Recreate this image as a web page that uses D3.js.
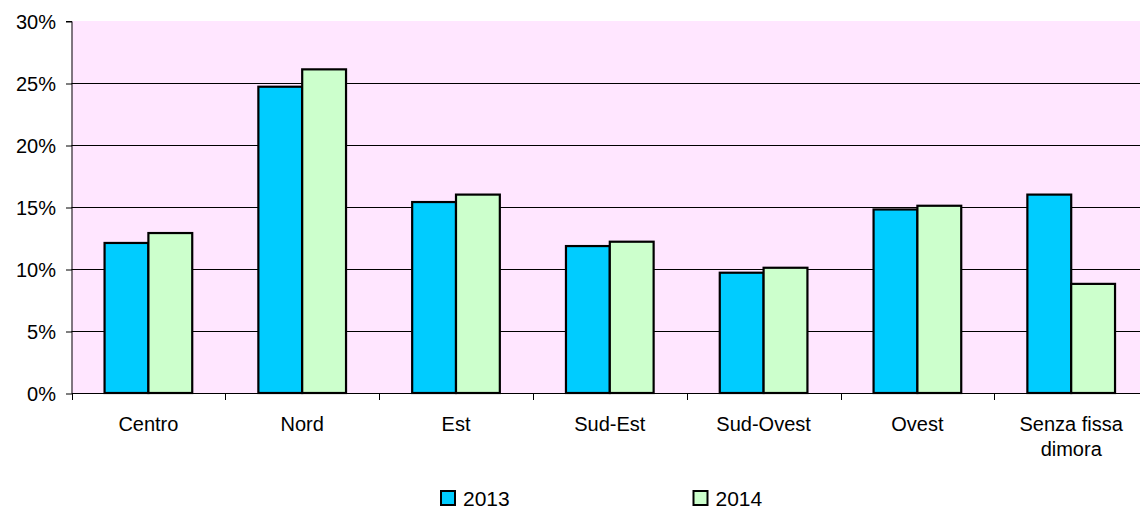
<!DOCTYPE html>
<html>
<head>
<meta charset="utf-8">
<script src="https://cdn.jsdelivr.net/npm/d3@7"></script>
<style>
  body { margin: 0; background: #fff; }
  svg text { font-family: "Liberation Sans", Arial, sans-serif; fill: #000; }
</style>
</head>
<body>
<div id="chart"></div>
<script>
// dati
var categories = ["Centro", "Nord", "Est", "Sud-Est", "Sud-Ovest", "Ovest", "Senza fissa dimora"];
var anni = ["2013", "2014"];
var val2013 = [12.1, 24.7, 15.4, 11.85, 9.7, 14.8, 16.0];
var val2014 = [12.9, 26.1, 16.0, 12.2, 10.1, 15.1, 8.8];
var yTicks = [0, 5, 10, 15, 20, 25, 30];
var colori = ["#00CCFF", "#CCFFCC"];

var w = 1140, h = 510;
var plotL = 71.5, plotT = 21, plotB = 393;
var step = 153.8;
var plotR = plotL + step * categories.length;

var svg = d3.select("#chart").append("svg")
    .attr("width", w)
    .attr("height", h);

var x = d3.scaleBand()
    .domain(categories)
    .range([plotL, plotR])
    .paddingInner(0)
    .paddingOuter(0);

var xs = d3.scaleBand()
    .domain(anni)
    .range([step * 0.215, step * 0.785]);

var y = d3.scaleLinear()
    .domain([0, 30])
    .range([plotB, plotT]);

// sfondo area grafico
svg.append("rect")
    .attr("x", plotL)
    .attr("y", plotT)
    .attr("width", plotR - plotL)
    .attr("height", plotB - plotT)
    .attr("fill", "#FFE6FF");

// griglia
svg.selectAll(".grid")
    .data(yTicks.filter(function (d) { return d > 0 && d < 30; }))
    .enter().append("line")
    .attr("class", "grid")
    .attr("x1", plotL)
    .attr("x2", plotR)
    .attr("y1", function (d) { return Math.round(y(d)) + 0.5; })
    .attr("y2", function (d) { return Math.round(y(d)) + 0.5; })
    .attr("stroke", "#000")
    .attr("stroke-width", 1);

// barre
var rows = categories.map(function (c, i) {
    return { cat: c, vals: [val2013[i], val2014[i]] };
});

var g = svg.selectAll(".grp")
    .data(rows)
    .enter().append("g")
    .attr("transform", function (d) { return "translate(" + x(d.cat) + ",0)"; });

g.selectAll("rect")
    .data(function (d) { return d.vals.map(function (v, j) { return { k: anni[j], v: v, j: j }; }); })
    .enter().append("rect")
    .attr("x", function (d) { return xs(d.k); })
    .attr("y", function (d) { return y(d.v); })
    .attr("width", xs.bandwidth())
    .attr("height", function (d) { return plotB - y(d.v); })
    .attr("fill", function (d) { return colori[d.j]; })
    .attr("stroke", "#000")
    .attr("stroke-width", 2.2);

// asse y
var yAxis = d3.axisLeft(y)
    .tickValues(yTicks)
    .tickSize(6)
    .tickPadding(10)
    .tickFormat(function (d) { return d + "%"; });

var ya = svg.append("g")
    .attr("transform", "translate(" + (plotL + 0.5) + ",0.5)")
    .call(yAxis);
ya.select(".domain").attr("stroke", "#000").attr("d", "M-6," + plotT + "H0V" + (plotB - 0.5));
ya.selectAll(".tick line").attr("stroke", "#000");
ya.selectAll(".tick text")
    .style("font-size", "20px")
    .attr("dy", "0.35em");

// asse x
var xa = svg.append("g")
    .attr("transform", "translate(0," + (Math.round(plotB) + 0.5) + ")")
    .call(d3.axisBottom(x).tickSize(0).tickFormat(""));
xa.select(".domain").attr("stroke", "#000").attr("d", "M" + plotL + ",0H" + plotR);

svg.selectAll(".xtick")
    .data(d3.range(categories.length + 1))
    .enter().append("line")
    .attr("x1", function (i) { return Math.round(plotL + i * step) + 0.5; })
    .attr("x2", function (i) { return Math.round(plotL + i * step) + 0.5; })
    .attr("y1", plotB)
    .attr("y2", plotB + 7)
    .attr("stroke", "#000");

var labels = svg.selectAll(".xlab")
    .data(categories)
    .enter().append("text")
    .attr("text-anchor", "middle")
    .style("font-size", "20px")
    .attr("x", function (d) { return x(d) + x.bandwidth() / 2; })
    .attr("y", 431);

labels.each(function (d) {
    var t = d3.select(this);
    var parts = d === "Senza fissa dimora" ? ["Senza fissa", "dimora"] : [d];
    parts.forEach(function (p, k) {
        t.append("tspan")
            .attr("x", x(d) + x.bandwidth() / 2)
            .attr("dy", k === 0 ? 0 : 25)
            .text(p);
    });
});

// legenda
var legX = [441, 693.5];
var leg = svg.selectAll(".leg")
    .data(anni)
    .enter().append("g")
    .attr("transform", function (d, i) { return "translate(" + legX[i] + ",491)"; });

leg.append("rect")
    .attr("width", 14)
    .attr("height", 14)
    .attr("fill", function (d, i) { return colori[i]; })
    .attr("stroke", "#000")
    .attr("stroke-width", 2);

leg.append("text")
    .attr("x", 22)
    .attr("y", 15)
    .style("font-size", "21px")
    .text(function (d) { return d; });
</script>
</body>
</html>
